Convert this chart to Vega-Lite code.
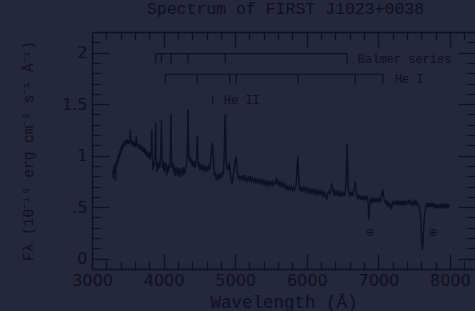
{
  "$schema": "https://vega.github.io/schema/vega-lite/v6.json",
  "width": 383,
  "height": 237,
  "autosize": {"type": "none"},
  "padding": {"left": 92, "top": 32, "right": 0, "bottom": 42},
  "background": "#25273c",
  "config": {
    "view": {"stroke": null},
    "axis": {"domainColor": "#0e1023", "tickColor": "#0e1023", "labelColor": "#0e1023", "titleColor": "#0e1023", "grid": false, "domainWidth": 1.3, "tickWidth": 1.3}
  },
  "title": {"text": "Spectrum of FIRST J1023+0038", "font": "Liberation Mono", "fontSize": 16.5, "fontWeight": "normal", "color": "#0e1023", "anchor": "middle", "dx": 2, "offset": 14},
  "datasets": {
    "spec": [
      {"w":3290,"f":0.86},{"w":3297,"f":0.78},{"w":3305,"f":0.90},{"w":3312,"f":0.83},{"w":3320,"f":0.92},{"w":3328,"f":0.76},{"w":3335,"f":0.88},{"w":3343,"f":0.95},{"w":3350,"f":0.89},{"w":3358,"f":0.99},{"w":3365,"f":0.94},{"w":3373,"f":1.02},{"w":3380,"f":0.97},{"w":3390,"f":1.05},{"w":3400,"f":1.01},{"w":3410,"f":1.09},{"w":3420,"f":1.05},{"w":3430,"f":1.12},{"w":3440,"f":1.08},{"w":3450,"f":1.14},{"w":3460,"f":1.10},{"w":3470,"f":1.15},{"w":3480,"f":1.11},{"w":3490,"f":1.16},{"w":3500,"f":1.12},{"w":3510,"f":1.15},{"w":3520,"f":1.11},{"w":3530,"f":1.17},{"w":3537,"f":1.25},{"w":3545,"f":1.12},{"w":3555,"f":1.15},{"w":3565,"f":1.10},{"w":3575,"f":1.14},{"w":3585,"f":1.09},{"w":3595,"f":1.13},{"w":3605,"f":1.08},{"w":3613,"f":1.12},{"w":3620,"f":1.19},{"w":3628,"f":1.09},{"w":3640,"f":1.12},{"w":3650,"f":1.07},{"w":3660,"f":1.11},{"w":3670,"f":1.06},{"w":3680,"f":1.10},{"w":3690,"f":1.05},{"w":3700,"f":1.09},{"w":3710,"f":1.04},{"w":3720,"f":1.08},{"w":3730,"f":1.02},{"w":3740,"f":1.07},{"w":3750,"f":1.01},{"w":3760,"f":1.05},{"w":3770,"f":0.99},{"w":3780,"f":1.04},{"w":3790,"f":0.98},{"w":3800,"f":1.03},{"w":3810,"f":0.96},{"w":3820,"f":1.01},{"w":3828,"f":1.06},{"w":3835,"f":1.25},{"w":3842,"f":1.00},{"w":3852,"f":0.86},{"w":3862,"f":0.95},{"w":3872,"f":0.90},{"w":3880,"f":1.02},{"w":3889,"f":1.32},{"w":3897,"f":0.99},{"w":3906,"f":0.84},{"w":3916,"f":0.93},{"w":3926,"f":0.87},{"w":3936,"f":0.94},{"w":3946,"f":0.88},{"w":3956,"f":0.98},{"w":3963,"f":1.08},{"w":3970,"f":1.34},{"w":3977,"f":1.05},{"w":3986,"f":0.88},{"w":3996,"f":0.95},{"w":4006,"f":0.84},{"w":4016,"f":0.92},{"w":4026,"f":0.86},{"w":4036,"f":0.93},{"w":4046,"f":0.81},{"w":4056,"f":0.90},{"w":4066,"f":0.84},{"w":4076,"f":0.91},{"w":4086,"f":0.88},{"w":4094,"f":1.02},{"w":4102,"f":1.41},{"w":4110,"f":1.03},{"w":4118,"f":0.88},{"w":4128,"f":0.93},{"w":4138,"f":0.84},{"w":4148,"f":0.90},{"w":4158,"f":0.80},{"w":4168,"f":0.88},{"w":4178,"f":0.83},{"w":4188,"f":0.89},{"w":4198,"f":0.80},{"w":4208,"f":0.87},{"w":4218,"f":0.82},{"w":4228,"f":0.88},{"w":4238,"f":0.79},{"w":4248,"f":0.86},{"w":4258,"f":0.83},{"w":4268,"f":0.89},{"w":4278,"f":0.81},{"w":4288,"f":0.87},{"w":4298,"f":0.83},{"w":4308,"f":0.88},{"w":4318,"f":0.90},{"w":4326,"f":0.98},{"w":4334,"f":1.15},{"w":4340,"f":1.45},{"w":4347,"f":1.14},{"w":4355,"f":0.99},{"w":4364,"f":0.95},{"w":4372,"f":0.99},{"w":4380,"f":0.93},{"w":4390,"f":0.97},{"w":4400,"f":0.90},{"w":4410,"f":0.95},{"w":4420,"f":0.89},{"w":4430,"f":0.94},{"w":4440,"f":0.88},{"w":4450,"f":0.93},{"w":4458,"f":0.96},{"w":4465,"f":1.08},{"w":4471,"f":1.19},{"w":4478,"f":1.02},{"w":4486,"f":0.89},{"w":4495,"f":0.93},{"w":4505,"f":0.86},{"w":4515,"f":0.92},{"w":4525,"f":0.87},{"w":4535,"f":0.91},{"w":4545,"f":0.85},{"w":4555,"f":0.90},{"w":4565,"f":0.86},{"w":4575,"f":0.91},{"w":4585,"f":0.84},{"w":4595,"f":0.89},{"w":4605,"f":0.85},{"w":4615,"f":0.90},{"w":4625,"f":0.86},{"w":4635,"f":0.91},{"w":4645,"f":0.87},{"w":4655,"f":0.92},{"w":4664,"f":0.99},{"w":4672,"f":1.09},{"w":4680,"f":1.12},{"w":4688,"f":1.10},{"w":4695,"f":0.99},{"w":4703,"f":0.88},{"w":4712,"f":0.80},{"w":4722,"f":0.84},{"w":4732,"f":0.77},{"w":4742,"f":0.82},{"w":4752,"f":0.76},{"w":4762,"f":0.81},{"w":4772,"f":0.78},{"w":4782,"f":0.83},{"w":4792,"f":0.77},{"w":4802,"f":0.82},{"w":4812,"f":0.79},{"w":4822,"f":0.84},{"w":4832,"f":0.82},{"w":4842,"f":0.90},{"w":4850,"f":1.08},{"w":4858,"f":1.36},{"w":4863,"f":1.40},{"w":4869,"f":1.12},{"w":4876,"f":0.94},{"w":4885,"f":0.87},{"w":4894,"f":0.91},{"w":4904,"f":0.86},{"w":4914,"f":0.89},{"w":4922,"f":0.94},{"w":4930,"f":0.84},{"w":4940,"f":0.78},{"w":4950,"f":0.74},{"w":4960,"f":0.73},{"w":4970,"f":0.79},{"w":4980,"f":0.84},{"w":4990,"f":0.89},{"w":5000,"f":0.95},{"w":5008,"f":0.99},{"w":5016,"f":0.96},{"w":5024,"f":0.88},{"w":5034,"f":0.82},{"w":5044,"f":0.78},{"w":5054,"f":0.81},{"w":5064,"f":0.76},{"w":5074,"f":0.80},{"w":5084,"f":0.77},{"w":5094,"f":0.81},
      {"w":5110,"f":0.77},{"w":5125,"f":0.81},{"w":5140,"f":0.76},{"w":5155,"f":0.79},{"w":5170,"f":0.75},{"w":5185,"f":0.79},{"w":5200,"f":0.76},{"w":5215,"f":0.80},{"w":5230,"f":0.75},{"w":5245,"f":0.78},{"w":5260,"f":0.74},{"w":5275,"f":0.79},{"w":5290,"f":0.73},{"w":5305,"f":0.77},{"w":5320,"f":0.74},{"w":5335,"f":0.78},{"w":5350,"f":0.72},{"w":5365,"f":0.76},{"w":5380,"f":0.73},{"w":5395,"f":0.77},{"w":5410,"f":0.71},{"w":5425,"f":0.75},{"w":5440,"f":0.72},{"w":5455,"f":0.76},{"w":5470,"f":0.71},{"w":5485,"f":0.74},{"w":5500,"f":0.72},{"w":5515,"f":0.75},{"w":5530,"f":0.70},{"w":5545,"f":0.74},{"w":5560,"f":0.73},{"w":5575,"f":0.79},{"w":5590,"f":0.72},{"w":5605,"f":0.75},{"w":5620,"f":0.71},{"w":5635,"f":0.75},{"w":5650,"f":0.69},{"w":5665,"f":0.73},{"w":5680,"f":0.70},{"w":5695,"f":0.72},{"w":5710,"f":0.67},{"w":5725,"f":0.71},{"w":5740,"f":0.66},{"w":5755,"f":0.70},{"w":5770,"f":0.67},{"w":5785,"f":0.70},{"w":5800,"f":0.66},{"w":5815,"f":0.69},{"w":5830,"f":0.67},{"w":5845,"f":0.70},{"w":5856,"f":0.76},{"w":5866,"f":0.90},{"w":5876,"f":0.99},{"w":5884,"f":0.85},{"w":5893,"f":0.72},{"w":5905,"f":0.66},{"w":5920,"f":0.70},{"w":5935,"f":0.65},{"w":5950,"f":0.69},{"w":5965,"f":0.66},{"w":5980,"f":0.70},{"w":5995,"f":0.65},{"w":6010,"f":0.68},{"w":6025,"f":0.64},{"w":6040,"f":0.68},{"w":6055,"f":0.63},{"w":6070,"f":0.67},{"w":6085,"f":0.64},{"w":6100,"f":0.68},{"w":6115,"f":0.63},{"w":6130,"f":0.66},{"w":6145,"f":0.62},{"w":6160,"f":0.66},{"w":6175,"f":0.63},{"w":6190,"f":0.67},{"w":6205,"f":0.62},{"w":6220,"f":0.65},{"w":6235,"f":0.61},{"w":6250,"f":0.64},{"w":6265,"f":0.60},{"w":6278,"f":0.58},{"w":6290,"f":0.63},{"w":6305,"f":0.65},{"w":6320,"f":0.63},{"w":6335,"f":0.67},{"w":6350,"f":0.73},{"w":6362,"f":0.68},{"w":6375,"f":0.63},{"w":6390,"f":0.66},{"w":6405,"f":0.61},{"w":6420,"f":0.65},{"w":6435,"f":0.62},{"w":6450,"f":0.65},{"w":6465,"f":0.60},{"w":6480,"f":0.64},{"w":6495,"f":0.61},{"w":6510,"f":0.64},{"w":6525,"f":0.62},{"w":6540,"f":0.66},{"w":6550,"f":0.75},{"w":6557,"f":0.98},{"w":6563,"f":1.12},{"w":6569,"f":0.96},{"w":6576,"f":0.74},{"w":6586,"f":0.65},{"w":6598,"f":0.62},{"w":6610,"f":0.65},{"w":6622,"f":0.61},{"w":6634,"f":0.64},{"w":6646,"f":0.62},{"w":6658,"f":0.66},{"w":6670,"f":0.71},{"w":6678,"f":0.75},{"w":6686,"f":0.68},{"w":6698,"f":0.62},{"w":6710,"f":0.59},{"w":6722,"f":0.62},{"w":6734,"f":0.58},{"w":6746,"f":0.61},{"w":6758,"f":0.57},{"w":6770,"f":0.61},{"w":6782,"f":0.58},{"w":6794,"f":0.60},{"w":6806,"f":0.57},{"w":6818,"f":0.60},{"w":6830,"f":0.58},{"w":6842,"f":0.60},{"w":6852,"f":0.57},{"w":6860,"f":0.50},{"w":6867,"f":0.38},{"w":6874,"f":0.46},{"w":6882,"f":0.55},{"w":6894,"f":0.58},{"w":6906,"f":0.55},{"w":6918,"f":0.58},{"w":6930,"f":0.56},{"w":6942,"f":0.59},{"w":6954,"f":0.55},{"w":6966,"f":0.58},{"w":6978,"f":0.56},{"w":6990,"f":0.59},{"w":7002,"f":0.55},{"w":7014,"f":0.58},{"w":7026,"f":0.56},{"w":7038,"f":0.59},{"w":7050,"f":0.63},{"w":7060,"f":0.67},{"w":7068,"f":0.64},{"w":7078,"f":0.58},{"w":7090,"f":0.56},{"w":7102,"f":0.54},{"w":7114,"f":0.56},{"w":7126,"f":0.52},{"w":7138,"f":0.54},{"w":7150,"f":0.51},{"w":7162,"f":0.53},{"w":7174,"f":0.50},{"w":7182,"f":0.48},{"w":7192,"f":0.52},{"w":7204,"f":0.55},{"w":7216,"f":0.53},{"w":7228,"f":0.56},{"w":7240,"f":0.52},{"w":7252,"f":0.55},{"w":7264,"f":0.53},{"w":7276,"f":0.56},{"w":7288,"f":0.53},{"w":7300,"f":0.55},{"w":7312,"f":0.52},{"w":7324,"f":0.56},{"w":7336,"f":0.53},{"w":7348,"f":0.55},{"w":7360,"f":0.52},{"w":7372,"f":0.56},{"w":7384,"f":0.53},{"w":7396,"f":0.55},{"w":7408,"f":0.54},{"w":7420,"f":0.57},{"w":7432,"f":0.53},{"w":7444,"f":0.56},{"w":7456,"f":0.53},{"w":7468,"f":0.55},{"w":7480,"f":0.52},{"w":7492,"f":0.55},{"w":7504,"f":0.53},{"w":7516,"f":0.56},{"w":7528,"f":0.53},{"w":7540,"f":0.55},{"w":7552,"f":0.52},{"w":7564,"f":0.51},{"w":7576,"f":0.48},{"w":7588,"f":0.42},{"w":7598,"f":0.28},{"w":7606,"f":0.15},{"w":7614,"f":0.08},{"w":7621,"f":0.12},{"w":7628,"f":0.24},{"w":7636,"f":0.34},{"w":7645,"f":0.42},{"w":7655,"f":0.47},{"w":7665,"f":0.51},{"w":7677,"f":0.54},{"w":7689,"f":0.50},{"w":7701,"f":0.53},{"w":7713,"f":0.51},{"w":7725,"f":0.54},{"w":7737,"f":0.50},{"w":7749,"f":0.53},{"w":7761,"f":0.51},{"w":7773,"f":0.54},{"w":7785,"f":0.50},{"w":7797,"f":0.52},{"w":7809,"f":0.49},{"w":7821,"f":0.53},{"w":7833,"f":0.50},{"w":7845,"f":0.53},{"w":7857,"f":0.49},{"w":7869,"f":0.52},{"w":7881,"f":0.50},{"w":7893,"f":0.53},{"w":7905,"f":0.49},{"w":7917,"f":0.52},{"w":7929,"f":0.50},{"w":7941,"f":0.53},{"w":7953,"f":0.50},{"w":7965,"f":0.52},{"w":7977,"f":0.49},{"w":7990,"f":0.53}
    ],
    "hbar": [
      {"w":3889,"w2":6563,"y":1.99},
      {"w":4026,"w2":7065,"y":1.79}
    ],
    "vtick": [
      {"w":3889,"y":1.99,"y2":1.90},{"w":3970,"y":1.99,"y2":1.90},{"w":4102,"y":1.99,"y2":1.90},{"w":4340,"y":1.99,"y2":1.90},{"w":4861,"y":1.99,"y2":1.90},{"w":6563,"y":1.99,"y2":1.90},
      {"w":4026,"y":1.79,"y2":1.70},{"w":4471,"y":1.79,"y2":1.70},{"w":4922,"y":1.79,"y2":1.70},{"w":5016,"y":1.79,"y2":1.70},{"w":5876,"y":1.79,"y2":1.70},{"w":6678,"y":1.79,"y2":1.70},{"w":7065,"y":1.79,"y2":1.70},
      {"w":4686,"y":1.585,"y2":1.505}
    ],
    "labels": [
      {"w":6713,"y":1.94,"t":"Balmer series"},
      {"w":7231,"y":1.745,"t":"He I"},
      {"w":4841,"y":1.544,"t":"He II"}
    ],
    "earth": [
      {"w":6882,"y":0.25,"t":"⊕"},
      {"w":7766,"y":0.25,"t":"⊕"}
    ]
  },
  "layer": [
    {
      "data": {"name": "spec"},
      "mark": {"type": "line", "color": "#0e1023", "strokeWidth": 1.4},
      "encoding": {
        "x": {"field": "w", "type": "quantitative", "scale": {"domain": [3000, 8350], "nice": false, "zero": false},
          "axis": {"orient": "bottom", "values": [3000,4000,5000,6000,7000,8000], "tickSize": -15, "labelPadding": 18, "labelFont": "DejaVu Sans", "labelFontSize": 16, "labelFlush": false, "labelOverlap": false, "format": "d",
            "title": "Wavelength (Å)", "titleFont": "Liberation Mono", "titleFontSize": 17.5, "titleFontWeight": "normal", "titlePadding": 5}},
        "y": {"field": "f", "type": "quantitative", "scale": {"domain": [-0.1, 2.2], "nice": false, "zero": false},
          "axis": {"orient": "left", "values": [0, 0.5, 1, 1.5, 2], "tickSize": -17, "labelPadding": 22, "labelFont": "DejaVu Sans", "labelFontSize": 16, "labelFlush": false, "labelOverlap": false,
            "labelExpr": "datum.value == 0.5 ? '.5' : format(datum.value, '~g')",
            "title": "Fλ (10⁻¹⁵ erg cm⁻² s⁻¹ Å⁻¹)", "titleFont": "Liberation Mono", "titleFontSize": 14.5, "titleFontWeight": "normal", "titlePadding": 26}}
      }
    },
    {
      "data": {"name": "hbar"},
      "mark": {"type": "rule", "color": "#0e1023", "strokeWidth": 1.2},
      "encoding": {
        "x": {"field": "w", "type": "quantitative", "scale": {"domain": [3000, 8350], "nice": false, "zero": false},
          "axis": {"orient": "bottom", "values": [3200,3400,3600,3800,4200,4400,4600,4800,5200,5400,5600,5800,6200,6400,6600,6800,7200,7400,7600,7800,8200], "tickSize": -8, "labels": false, "domain": false, "title": null}},
        "x2": {"field": "w2"},
        "y": {"field": "y", "type": "quantitative", "scale": {"domain": [-0.1, 2.2], "nice": false, "zero": false},
          "axis": {"orient": "left", "values": [0.1,0.2,0.3,0.4,0.6,0.7,0.8,0.9,1.1,1.2,1.3,1.4,1.6,1.7,1.8,1.9,2.1], "tickSize": -8, "labels": false, "domain": false, "title": null}}
      }
    },
    {
      "data": {"name": "vtick"},
      "mark": {"type": "rule", "color": "#0e1023", "strokeWidth": 1.2},
      "encoding": {
        "x": {"field": "w", "type": "quantitative", "scale": {"domain": [3000, 8350], "nice": false, "zero": false},
          "axis": {"orient": "top", "values": [4000,5000,6000,7000,8000], "tickSize": -15, "labels": false, "domain": true, "title": null}},
        "y": {"field": "y", "type": "quantitative", "scale": {"domain": [-0.1, 2.2], "nice": false, "zero": false},
          "axis": {"orient": "right", "values": [0, 0.5, 1, 1.5, 2], "tickSize": -17, "labels": false, "domain": false, "title": null}},
        "y2": {"field": "y2"}
      }
    },
    {
      "data": {"name": "labels"},
      "mark": {"type": "text", "color": "#0e1023", "font": "Liberation Mono", "fontSize": 12, "align": "left", "baseline": "middle"},
      "encoding": {
        "x": {"field": "w", "type": "quantitative", "scale": {"domain": [3000, 8350], "nice": false, "zero": false},
          "axis": {"orient": "top", "values": [3200,3400,3600,3800,4200,4400,4600,4800,5200,5400,5600,5800,6200,6400,6600,6800,7200,7400,7600,7800,8200], "tickSize": -8, "labels": false, "domain": false, "title": null}},
        "y": {"field": "y", "type": "quantitative", "scale": {"domain": [-0.1, 2.2], "nice": false, "zero": false},
          "axis": {"orient": "right", "values": [0.1,0.2,0.3,0.4,0.6,0.7,0.8,0.9,1.1,1.2,1.3,1.4,1.6,1.7,1.8,1.9,2.1], "tickSize": -8, "labels": false, "domain": false, "title": null}},
        "text": {"field": "t"}
      }
    },
    {
      "data": {"name": "earth"},
      "mark": {"type": "text", "color": "#0e1023", "font": "DejaVu Sans", "fontSize": 11, "align": "center", "baseline": "middle"},
      "encoding": {
        "x": {"field": "w", "type": "quantitative", "scale": {"domain": [3000, 8350], "nice": false, "zero": false}, "axis": null},
        "y": {"field": "y", "type": "quantitative", "scale": {"domain": [-0.1, 2.2], "nice": false, "zero": false}, "axis": null},
        "text": {"field": "t"}
      }
    }
  ],
  "resolve": {"axis": {"x": "independent", "y": "independent"}}
}
